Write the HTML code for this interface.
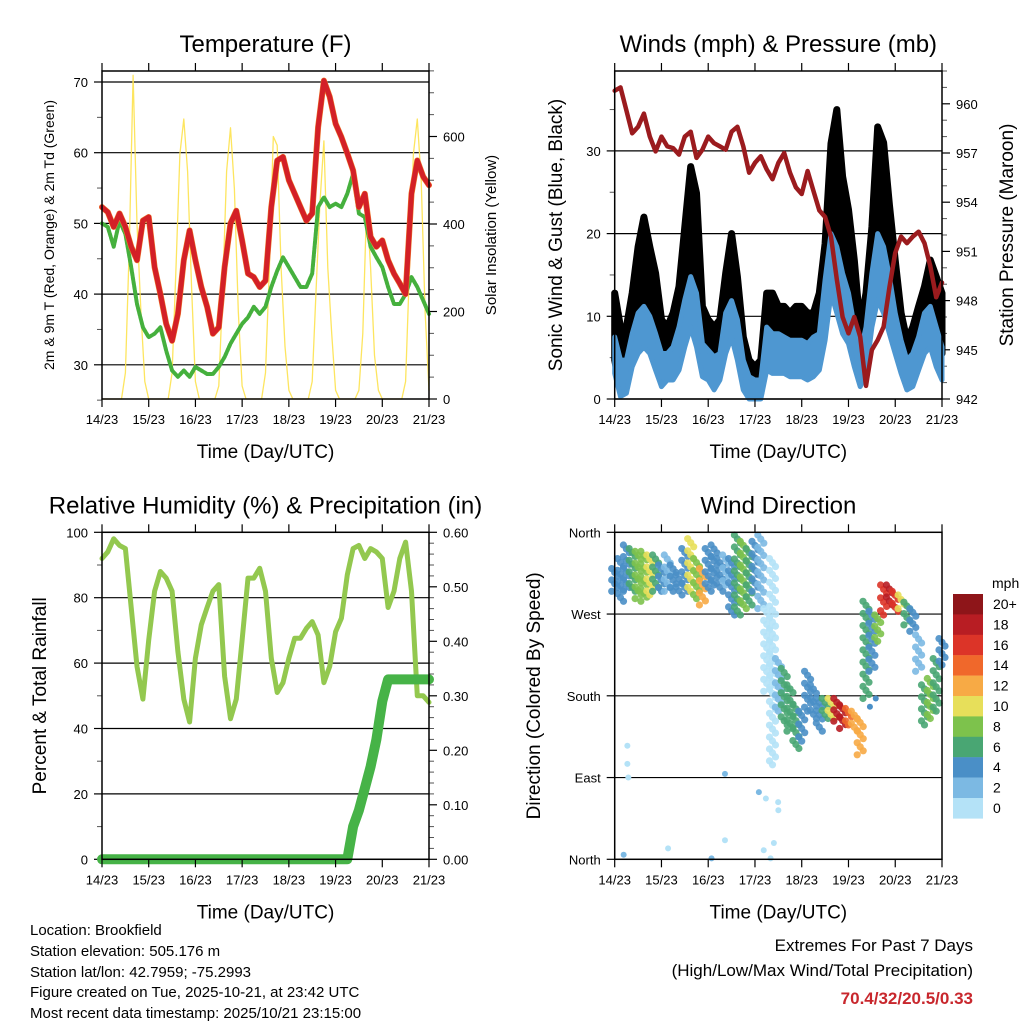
<!DOCTYPE html>
<html><head><meta charset="utf-8"><style>
html,body{margin:0;padding:0;background:#fff;}
svg{display:block;font-family:"Liberation Sans",sans-serif;}
</style></head><body>
<svg id="chart" width="1024" height="1024" viewBox="0 0 1024 1024" xmlns="http://www.w3.org/2000/svg">
<rect width="1024" height="1024" fill="#fff"/>
<g id="layer"></g>
<g font-size="15" fill="#000">
<text x="30" y="935">Location: Brookfield</text>
<text x="30" y="956">Station elevation: 505.176 m</text>
<text x="30" y="977">Station lat/lon: 42.7959; -75.2993</text>
<text x="30" y="997">Figure created on Tue, 2025-10-21, at 23:42 UTC</text>
<text x="30" y="1018">Most recent data timestamp: 2025/10/21 23:15:00</text>
</g>
<g font-size="17" text-anchor="end">
<text x="973" y="951">Extremes For Past 7 Days</text>
<text x="973" y="976">(High/Low/Max Wind/Total Precipitation)</text>
<text x="973" y="1004" font-weight="bold" fill="#c8272d">70.4/32/20.5/0.33</text>
</g>
</svg>
<script>
// ---- data (3-hour steps from 14/23 UTC) ----
const hours3 = [0,3,6,9,12,15,18,21,24,27,30,33,36,39,42,45,48,51,54,57,60,63,66,69,72,75,78,81,84,87,90,93,96,99,102,105,108,111,114,117,120,123,126,129,132,135,138,141,144,147,150,153,156,159,162,165,168];
const dayLabels = ["14/23","15/23","16/23","17/23","18/23","19/23","20/23","21/23"];
const tempRed = [52.3,51.6,49.5,51.4,49.5,46.7,44.8,50.4,50.9,43.8,40,35.8,33.4,37.2,44.8,49,44.8,41,38.2,34.4,35.3,43.8,50,51.8,47.6,42.9,42.4,41,41.9,52.3,58.9,59.4,56.1,54.2,52.3,50.4,51.4,63.6,70.2,67.9,64.1,62.2,59.9,57.5,52.3,54.2,48.1,46.7,47.6,44.8,42.9,41.5,40,54.2,58.9,56.6,55.4];
const dewGreen = [50,49.5,46.7,50.4,48.5,43.8,38.6,35.3,33.9,34.4,35.3,32,29.2,28.3,29.2,28.3,29.7,29.2,28.7,28.7,29.7,31.1,33,34.4,35.8,36.7,38.2,37.2,38.2,41,43.3,45.2,43.8,42.4,41,41,42.9,52.3,53.7,52.3,52.8,52.3,54.2,57,51.4,50.9,46.7,45.2,43.8,41,38.6,38.6,40,42.4,41,39.1,37.2];
const solarHours = [0,2,4,6,8,10,12,14,16,18,20,22,24,26,28,30,32,34,36,38,40,42,44,46,48,50,52,54,56,58,60,62,64,66,68,70,72,74,76,78,80,82,84,86,88,90,92,94,96,98,100,102,104,106,108,110,112,114,116,118,120,122,124,126,128,130,132,134,136,138,140,142,144,146,148,150,152,154,156,158,160,162,164,166,168];
const solar = [0,0,0,0,0,0,60,350,740,400,200,40,0,0,0,0,0,0,60,300,560,640,520,260,40,0,0,0,0,0,30,250,520,620,480,200,30,0,0,0,0,0,60,300,600,580,300,120,20,0,0,0,0,0,40,250,450,590,300,150,20,0,0,0,0,0,20,150,450,300,100,20,0,0,0,0,0,0,40,300,560,640,500,200,20];
const pressure = [960.8,961,959.6,958.2,958.6,959.4,958,957.1,958,957.4,957.3,956.9,958,958.3,956.7,957.2,958,957.6,957.4,957.2,958.3,958.6,957.4,955.8,956.4,956.8,956,955.4,956.4,957,955.8,954.9,954.5,955.9,954.7,953.5,953.1,951.9,949.3,947,946,947,945.8,942.8,945,945.6,946.4,948.8,950.9,951.9,951.5,951.9,952.2,951.5,950.1,948.2,949.1];
const gustHigh = [12.8,8.7,8.7,12.8,18.4,22,18.4,15.2,9.6,8.7,10.4,13.6,20.8,28.1,24.9,11.2,9.6,8.7,9.6,15.2,20,14.8,7.5,4.7,3.9,4.7,12.8,12.8,11.2,11.2,10.4,11.2,11.2,10.4,10.4,12.8,18.8,30.9,35,26.9,22.9,16.8,8.7,12.8,20.8,32.9,31,23.5,16.8,10.4,7.1,8.7,11.2,13.6,16.8,14.8,12.8];
const gustLow = [4.7,1.1,2.3,5.5,8.7,12,9.6,6.7,3.5,4.7,5.1,6.7,12,16.8,12.8,5.5,4.7,3.1,4.7,8.7,12.8,7.9,2.7,0.7,0.3,0.7,6.7,6.3,6.3,5.9,5.5,5.5,5.5,5.1,5.5,6.7,11.9,16.8,20.8,16.8,12.8,9.6,3.9,6.3,12.8,20.8,18.8,14.8,9.6,5.5,2.7,3.9,5.9,7.9,9.6,7.9,5.5];
const windHigh = [7.5,4.7,4.7,7.9,10.4,11.2,10,7.9,5.5,5.5,6.3,8.7,12,14.8,12.8,6.7,5.9,5.1,5.5,10.4,11.9,9.6,4.7,2.7,2.3,2.3,8.7,7.9,7.9,7.5,7.1,7.1,7.1,6.7,7.5,7.9,14.4,20,18.4,15.2,12.8,8.7,5.5,8.7,15.2,20,18.4,14.8,10.4,7.1,4.7,5.5,7.5,10.4,11.2,8.7,6.3];
const windLow = [3.1,0.3,0.7,3.9,5.5,6.3,5.5,3.5,1.5,2.3,2.3,3.5,6.3,8.7,6.3,2.7,2.3,1.1,2.3,5.5,7.5,4.7,1.1,0,0,0,3.5,3.1,3.1,3.1,2.7,2.7,2.7,2.3,2.7,3.5,7.1,12.8,10.4,7.9,6.7,3.9,1.5,3.1,8.7,12,10.4,7.9,5.5,3.1,1.1,1.5,3.5,5.5,6.3,3.9,2.3];
const rh = [92,94,98,96,95,77,59,49,67,82,88,86,82,63.5,49,42,61.5,71.7,77,82,84,56,43,49,67,86,86,89,82,61.5,51,54,61.5,67.6,67.6,70.6,72.7,68.6,54,59,69.6,73.7,87,95,96,92,95,94,92,77,82,92,97,82,50,50,48];
const precip = [0,0,0,0,0,0,0,0,0,0,0,0,0,0,0,0,0,0,0,0,0,0,0,0,0,0,0,0,0,0,0,0,0,0,0,0,0,0,0,0,0,0,0,0.06,0.09,0.13,0.17,0.22,0.29,0.33,0.33,0.33,0.33,0.33,0.33,0.33,0.33];
const dirMax = [320,331,346,342,339,339,335,335,324,335,324,313,342,353,331,320,342,346,331,335,331,357,350,342,350,357,276,331,221,210,192,170,163,207,192,177,177,177,177,170,166,163,155,284,273,269,302,302,295,291,283,276,247,192,199,221,243];
const dirMin = [295,284,295,295,287,284,291,295,295,295,295,291,295,295,287,280,295,302,295,302,269,269,276,280,295,276,185,104,163,148,141,122,130,163,155,141,155,155,152,144,148,141,115,177,207,240,269,280,273,276,258,251,207,148,155,163,214];
const dirSpeed = [5,4,5,6,8,9,10,7,4,3,4,4,5,10,9,13,5,4,4,3,4,6,9,6,4,2,1,1,2,7,6,6,5,4,4,4,6,10,18,18,14,13,12,6,4,8,17,19,16,10,6,4,3,6,8,6,5];
const outlierHours = [6.5,6.5,7,4.6,56.6,27.4,56.6,49.7,74,77.6,83.9,84,81.7,76.5,80,134,131];
const outlierDirs = [125,105,90,5,94,12,21,1,74,67,63,54,18,10,1,177,168];
const outlierSpeeds = [1,1,1,3,3,1,1,3,3,1,1,1,1,1,1,5,4];
const speedBins = ["0","2","4","6","8","10","12","14","16","18","20+"];
const speedColors = ["#b4e2f7","#7cb9e3","#4a8fc7","#49a673","#7dc24c","#e7df5a","#f7aa45","#f0682b","#dc3428","#b81d23","#8e1519"];

const NS="http://www.w3.org/2000/svg";
const layer=document.getElementById('layer');
function mk(tag,attrs,parent){const e=document.createElementNS(NS,tag);for(const k in attrs)e.setAttribute(k,attrs[k]);(parent||layer).appendChild(e);return e;}
function txt(s,attrs,parent){const e=mk('text',attrs,parent);e.textContent=s;return e;}

function panel(name,L,T,W,H){
  const g=mk('g',{});
  
  
  const xs=h=>L+h/168*W;
  return {g,L,T,W,H,xs};
}
function xAxis(p){
  const ax=mk('g',{},p.g);
  
  
  dayLabels.forEach((lab,i)=>{
    const x=p.xs(i*24);
    mk('line',{x1:x,x2:x,y1:p.T-8,y2:p.T,stroke:'#000','stroke-width':1.2},ax);
    mk('line',{x1:x,x2:x,y1:p.T+p.H,y2:p.T+p.H+8,stroke:'#000','stroke-width':1.2},ax);
    const t=txt(lab,{x:x,y:p.T+p.H+25,'font-size':13,'text-anchor':'middle'},ax);
    
    
  });
  const t=txt('Time (Day/UTC)',{x:p.L+p.W/2,y:p.T+p.H+59,'font-size':19,'text-anchor':'middle'},ax);
  
  
}
function yTicks(p,vals,labels,ys,side,grid,minor){
  const ax=mk('g',{},p.g);
  
  
  const xe=side==='left'?p.L:p.L+p.W, d=side==='left'?-1:1;
  if(minor) minor.forEach(v=>{const y=ys(v);mk('line',{x1:xe,x2:xe+d*5,y1:y,y2:y,stroke:'#555','stroke-width':1},ax);});
  vals.forEach((v,i)=>{
    const y=ys(v);
    if(grid) mk('line',{x1:p.L,x2:p.L+p.W,y1:y,y2:y,stroke:'#000','stroke-width':1.2},ax);
    mk('line',{x1:xe,x2:xe+d*8,y1:y,y2:y,stroke:'#000','stroke-width':1.2},ax);
    const t=txt(labels[i],{x:xe+d*14,y:y+5,'font-size':13,'text-anchor':side==='left'?'end':'start'},ax);
    
    
  });
}
function yTitle(p,s,x,size){
  const cy=p.T+p.H/2;
  const t=txt(s,{x:x,y:cy,'font-size':size,'text-anchor':'middle',transform:`rotate(-90 ${x} ${cy})`},p.g);
  
  
}
function title(p,s){
  const t=txt(s,{x:p.L+p.W/2,y:p.T-19,'font-size':24,'text-anchor':'middle'},p.g);
  
  
}
function frame(p){
  const r=mk('rect',{x:p.L,y:p.T,width:p.W,height:p.H,fill:'none',stroke:'#000','stroke-width':1.5},p.g);
  
  
}
function line(p,xsArr,ysArr,xf,yf,attrs,name){
  const pts=xsArr.map((h,i)=>xf(h).toFixed(1)+','+yf(ysArr[i]).toFixed(1)).join(' ');
  const e=mk('polyline',Object.assign({points:pts,fill:'none','stroke-linejoin':'round','stroke-linecap':'round'},attrs),p.g);
  
  
  return e;
}
function band(p,hs,hi,lo,yf,attrs,name){
  const a=hs.map((h,i)=>p.xs(h).toFixed(1)+','+yf(hi[i]).toFixed(1));
  const b=hs.map((h,i)=>p.xs(h).toFixed(1)+','+yf(lo[i]).toFixed(1)).reverse();
  const e=mk('polygon',Object.assign({points:a.concat(b).join(' '),'stroke-linejoin':'round'},attrs),p.g);
  
  
}

// ---- Panel 1: Temperature ----
const p1=panel('temperature-panel',102,71,327,328);
const tY=v=>82+(70-v)*7.07;
const sY=v=>399-v*0.4375;
title(p1,'Temperature (F)');
yTicks(p1,[30,40,50,60,70],['30','40','50','60','70'],tY,'left',true,[25,35,45,55,65]);
yTicks(p1,[0,200,400,600],['0','200','400','600'],sY,'right',false,[50,100,150,250,300,350,450,500,550,650,700,750]);
line(p1,solarHours,solar,p1.xs,sY,{stroke:'#fde24e','stroke-width':1.3,opacity:0.9},'solar-line');
line(p1,hours3,dewGreen,p1.xs,tY,{stroke:'#45b03d','stroke-width':4,'stroke-dasharray':'3 1.5'},'dewpoint-line');
line(p1,hours3,tempRed,p1.xs,tY,{stroke:'#f07d2b','stroke-width':6},'temp-9m-line');
line(p1,hours3,tempRed,p1.xs,tY,{stroke:'#d32027','stroke-width':5},'temp-2m-line');
frame(p1);xAxis(p1);
yTitle(p1,'2m & 9m T (Red, Orange) & 2m Td (Green)',54,14);
yTitle(p1,'Solar Insolation (Yellow)',496,15);

// ---- Panel 2: Winds & pressure ----
const p2=panel('winds-panel',614.7,71,327.3,328);
const wY=v=>399-v*8.27;
const pY=v=>399-(v-942)*16.4;
title(p2,'Winds (mph) & Pressure (mb)');
yTicks(p2,[0,10,20,30],['0','10','20','30'],wY,'left',true,[5,15,25,35]);
yTicks(p2,[942,945,948,951,954,957,960],['942','945','948','951','954','957','960'],pY,'right',false,[943,944,946,947,949,950,952,953,955,956,958,959,961,962]);
band(p2,hours3,gustHigh,gustLow,wY,{fill:'#000',stroke:'#000','stroke-width':7},'gust-band');
band(p2,hours3,windHigh,windLow,wY,{fill:'#4e97d1',stroke:'#4e97d1','stroke-width':5},'wind-band');
line(p2,hours3,pressure,p2.xs,pY,{stroke:'#9b1b1e','stroke-width':4.5},'pressure-line');
frame(p2);xAxis(p2);
yTitle(p2,'Sonic Wind & Gust (Blue, Black)',562,19);
yTitle(p2,'Station Pressure (Maroon)',1013,19);

// ---- Panel 3: RH & precip ----
const p3=panel('humidity-panel',102,532.3,327,327);
const rY=v=>859.3-v*3.27;
const qY=v=>859.3-v*545;
title(p3,'Relative Humidity (%) & Precipitation (in)');
yTicks(p3,[0,20,40,60,80,100],['0','20','40','60','80','100'],rY,'left',true,[10,30,50,70,90]);
yTicks(p3,[0,0.1,0.2,0.3,0.4,0.5,0.6],['0.00','0.10','0.20','0.30','0.40','0.50','0.60'],qY,'right',false,[0.02,0.04,0.06,0.08,0.12,0.14,0.16,0.18,0.22,0.24,0.26,0.28,0.32,0.34,0.36,0.38,0.42,0.44,0.46,0.48,0.52,0.54,0.56,0.58]);
line(p3,hours3,rh,p3.xs,rY,{stroke:'#93c84f','stroke-width':5},'rh-line');
line(p3,hours3,precip,p3.xs,qY,{stroke:'#46b347','stroke-width':10},'precip-line');
frame(p3);xAxis(p3);
yTitle(p3,'Percent & Total Rainfall',46,19);

// ---- Panel 4: Wind direction ----
const p4=panel('wind-direction-panel',614.7,532.3,327.3,327);
const dY=v=>859.3-v/360*327;
title(p4,'Wind Direction');
yTicks(p4,[0,90,180,270,360],['North','East','South','West','North'],dY,'left',false);
[90,180,270].forEach(v=>{mk('line',{x1:p4.L,x2:p4.L+p4.W,y1:dY(v),y2:dY(v),stroke:'#000','stroke-width':1.2},p4.g);});
const colorFor=s=>speedColors[Math.min(10,Math.floor(s/2))];
hours3.forEach((h,i)=>{
  const x=p4.xs(h);
  const y1=dY(dirMax[i]), y2=dY(dirMin[i]);
  const n=Math.max(1,Math.round((y2-y1)/4));
  for(let k=0;k<=n;k++){
    const y=y1+(y2-y1)*k/n;
    const dx=((k%3)-1)*3;
    const c=mk('circle',{cx:(x+dx).toFixed(1),cy:y.toFixed(1),r:3.6,fill:colorFor(dirSpeed[i]),opacity:0.9},p4.g);
    
    
  }
});
outlierHours.forEach((h,i)=>{
  const c=mk('circle',{cx:p4.xs(h),cy:dY(outlierDirs[i]),r:3,fill:colorFor(outlierSpeeds[i])},p4.g);
  
  
});
frame(p4);xAxis(p4);
yTitle(p4,'Direction (Colored By Speed)',540,19);

// colorbar
const cb=mk('g',{});


const ct=txt('mph',{x:992,y:588,'font-size':14},cb);


speedBins.forEach((lab,i)=>{
  const k=10-i, y=594+i*20.4;
  const r=mk('rect',{x:953,y:y,width:30,height:20.6,fill:speedColors[k]},cb);
  
  
  const t=txt(speedBins[k],{x:993,y:y+15,'font-size':14},cb);
  
  
});
</script>
</body></html>
